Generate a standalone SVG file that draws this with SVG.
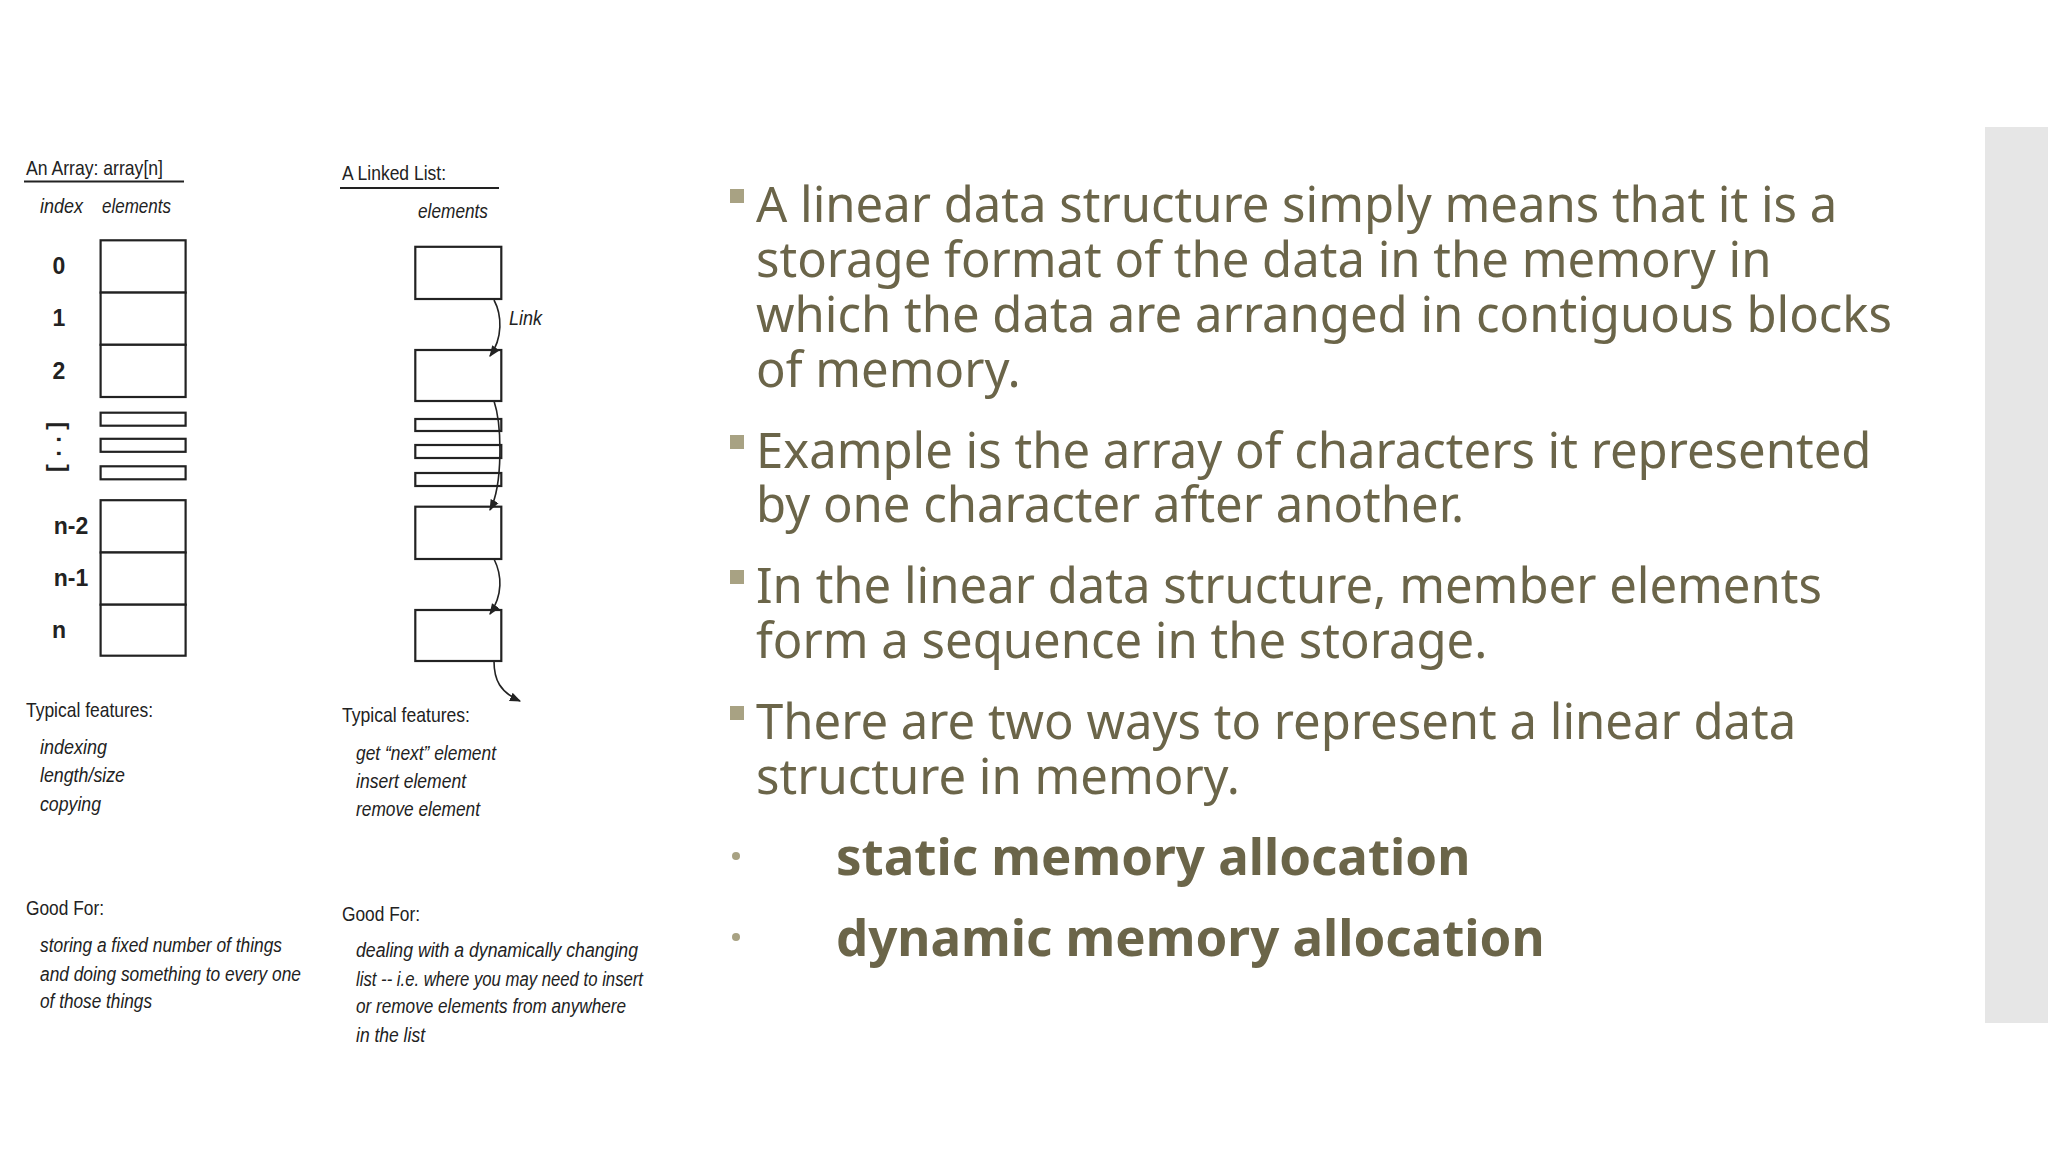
<svg xmlns="http://www.w3.org/2000/svg" width="2048" height="1152" viewBox="0 0 2048 1152">
<defs>
<marker id="ah" viewBox="0 0 10 10" refX="9" refY="5" markerWidth="7" markerHeight="7" orient="auto"><path d="M0,1 L10,5 L0,9 z" fill="#222"/></marker>
<style>
.box{fill:#fff;stroke:#222;stroke-width:2.2}
.hd{font-family:"Liberation Sans Narrow","Liberation Sans",sans-serif;font-size:21px;fill:#222}
.it{font-family:"Liberation Sans Narrow","Liberation Sans",sans-serif;font-size:20px;font-style:italic;fill:#222}
.ix{font-family:"Liberation Sans",sans-serif;font-size:23px;font-weight:bold;fill:#222;text-anchor:middle}
.ln{stroke:#222;stroke-width:2.2}
.cn{fill:none;stroke:#222;stroke-width:1.6}
.bt{font-family:"Noto Sans","Open Sans",sans-serif;font-size:49px;fill:#6b6549}
.bb{font-family:"Noto Sans","Open Sans",sans-serif;font-size:51px;font-weight:bold;fill:#6b6549}
.sq{fill:#a8a283}
</style>
</defs>
<rect width="2048" height="1152" fill="#fff"/>
<rect x="1985" y="127" width="63" height="896" fill="#e6e6e6"/>

<g id="array">
<text class="hd" x="26" y="175" textLength="137" lengthAdjust="spacingAndGlyphs">An Array: array[n]</text>
<line class="ln" x1="24" y1="181.5" x2="184" y2="181.5"/>
<text class="it" x="40" y="213" textLength="43" lengthAdjust="spacingAndGlyphs">index</text>
<text class="it" x="102" y="213" textLength="69" lengthAdjust="spacingAndGlyphs">elements</text>
<rect class="box" x="100.6" y="240.3" width="85" height="52.3"/>
<rect class="box" x="100.6" y="292.6" width="85" height="52.2"/>
<rect class="box" x="100.6" y="344.8" width="85" height="52.2"/>
<rect class="box" x="100.6" y="412.7" width="85" height="13"/>
<rect class="box" x="100.6" y="438.8" width="85" height="13"/>
<rect class="box" x="100.6" y="466.3" width="85" height="13"/>
<rect class="box" x="100.6" y="500.2" width="85" height="52.3"/>
<rect class="box" x="100.6" y="552.5" width="85" height="52.2"/>
<rect class="box" x="100.6" y="604.7" width="85" height="51"/>
<text class="ix" x="59" y="274">0</text>
<text class="ix" x="59" y="326">1</text>
<text class="ix" x="59" y="379">2</text>
<text class="ix" x="59" y="447" transform="rotate(90 59 447)" dy="8">[ · · ]</text>
<text class="ix" x="71" y="534">n-2</text>
<text class="ix" x="71" y="586">n-1</text>
<text class="ix" x="59" y="638">n</text>
<text class="hd" x="26" y="717" textLength="127" lengthAdjust="spacingAndGlyphs">Typical features:</text>
<text class="it" x="40" y="754" textLength="67" lengthAdjust="spacingAndGlyphs">indexing</text>
<text class="it" x="40" y="782" textLength="85" lengthAdjust="spacingAndGlyphs">length/size</text>
<text class="it" x="40" y="811" textLength="61" lengthAdjust="spacingAndGlyphs">copying</text>
<text class="hd" x="26" y="915" textLength="78" lengthAdjust="spacingAndGlyphs">Good For:</text>
<text class="it" x="40" y="952" textLength="242" lengthAdjust="spacingAndGlyphs">storing a fixed number of things</text>
<text class="it" x="40" y="981" textLength="261" lengthAdjust="spacingAndGlyphs">and doing something to every one</text>
<text class="it" x="40" y="1008" textLength="112" lengthAdjust="spacingAndGlyphs">of those things</text>
</g>

<g id="linkedlist">
<text class="hd" x="342" y="180" textLength="104" lengthAdjust="spacingAndGlyphs">A Linked List:</text>
<line class="ln" x1="340" y1="188" x2="499" y2="188"/>
<text class="it" x="418" y="218" textLength="70" lengthAdjust="spacingAndGlyphs">elements</text>
<rect class="box" x="415.3" y="246.8" width="86" height="52.2"/>
<rect class="box" x="415.3" y="350" width="86" height="51"/>
<rect class="box" x="415.3" y="419" width="86" height="12"/>
<rect class="box" x="415.3" y="445" width="86" height="13"/>
<rect class="box" x="415.3" y="473" width="86" height="13"/>
<rect class="box" x="415.3" y="506.7" width="86" height="52.3"/>
<rect class="box" x="415.3" y="610" width="86" height="51"/>
<text class="it" x="509" y="325" textLength="33" lengthAdjust="spacingAndGlyphs">Link</text>
<text class="hd" x="342" y="722" textLength="128" lengthAdjust="spacingAndGlyphs">Typical features:</text>
<text class="it" x="356" y="760" textLength="140" lengthAdjust="spacingAndGlyphs">get “next” element</text>
<text class="it" x="356" y="788" textLength="110" lengthAdjust="spacingAndGlyphs">insert element</text>
<text class="it" x="356" y="816" textLength="124" lengthAdjust="spacingAndGlyphs">remove element</text>
<text class="hd" x="342" y="921" textLength="78" lengthAdjust="spacingAndGlyphs">Good For:</text>
<text class="it" x="356" y="957" textLength="282" lengthAdjust="spacingAndGlyphs">dealing with a dynamically changing</text>
<text class="it" x="356" y="986" textLength="287" lengthAdjust="spacingAndGlyphs">list -- i.e. where you may need to insert</text>
<text class="it" x="356" y="1013" textLength="270" lengthAdjust="spacingAndGlyphs">or remove elements from anywhere</text>
<text class="it" x="356" y="1042" textLength="69" lengthAdjust="spacingAndGlyphs">in the list</text>
</g>

<g id="connectors">
<path class="cn" d="M494,300 C502,315 503,338 490,356" marker-end="url(#ah)"/>
<path class="cn" d="M494,401 C502,425 503,485 490,510" marker-end="url(#ah)"/>
<path class="cn" d="M494,559 C502,575 503,595 490,614" marker-end="url(#ah)"/>
<path class="cn" d="M494,661 C494,680 500,692 520,701" marker-end="url(#ah)"/>
</g>

<g id="text">
<rect class="sq" x="730" y="189" width="14" height="14"/>
<text class="bt" x="756" y="222">A linear data structure simply means that it is a</text>
<text class="bt" x="756" y="277">storage format of the data in the memory in</text>
<text class="bt" x="756" y="332">which the data are arranged in contiguous blocks</text>
<text class="bt" x="756" y="387">of memory.</text>
<rect class="sq" x="730" y="435" width="14" height="14"/>
<text class="bt" x="756" y="468">Example is the array of characters it represented</text>
<text class="bt" x="756" y="522">by one character after another.</text>
<rect class="sq" x="730" y="570" width="14" height="14"/>
<text class="bt" x="756" y="603">In the linear data structure, member elements</text>
<text class="bt" x="756" y="658">form a sequence in the storage.</text>
<rect class="sq" x="730" y="706" width="14" height="14"/>
<text class="bt" x="756" y="739">There are two ways to represent a linear data</text>
<text class="bt" x="756" y="794">structure in memory.</text>
<circle class="sq" cx="736" cy="856" r="4"/>
<text class="bb" x="836" y="875">static memory allocation</text>
<circle class="sq" cx="736" cy="937" r="4"/>
<text class="bb" x="836" y="956">dynamic memory allocation</text>
</g>
</svg>
